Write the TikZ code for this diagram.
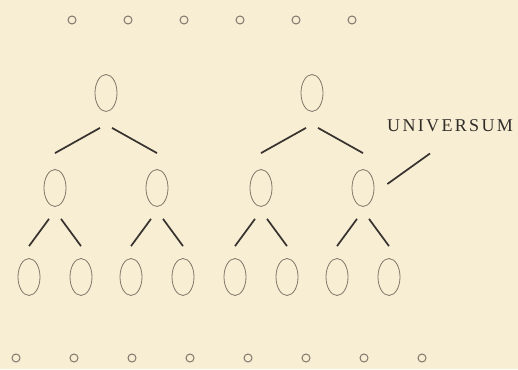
\documentclass[tikz,border=0pt]{standalone}
\usepackage{fontspec}
\usepackage{tikz}
\usetikzlibrary{shapes.geometric, positioning}
\newfontfamily\univfont[LetterSpace=13]{Liberation Serif}
\definecolor{paper}{RGB}{247,238,212}
\definecolor{inkdark}{RGB}{55,50,45}
\definecolor{inkgray}{RGB}{128,120,106}

\begin{document}
\begin{tikzpicture}[
    x=1pt, y=1pt, on grid,
    set/.style={draw=inkgray, ellipse, minimum width=22pt, minimum height=37pt,
                inner sep=0pt, line width=0.8pt},
    ring/.style={draw=inkgray, circle, minimum size=8pt, inner sep=0pt, line width=1pt},
    link/.style={draw=inkdark, line width=1.7pt},
    tag/.style={inner sep=0pt, text=inkdark!90!black,
                font=\univfont\fontsize{18}{20}\selectfont},
]
\useasboundingbox (0,0) rectangle (518,369);
\fill[paper] (0,0) rectangle (518,369);

% --- Top row ---
\node[ring] (t1) at (72,349) {};
\node[ring, right=56pt of t1] (t2) {};
\node[ring, right=56pt of t2] (t3) {};
\node[ring, right=56pt of t3] (t4) {};
\node[ring, right=56pt of t4] (t5) {};
\node[ring, right=56pt of t5] (t6) {};

% --- Roots ---
\node[set] (r1) at (106,276) {};
\node[set] (r2) at (312,276) {};

% --- Second level ---
\node[set, below left=95pt and 51pt of r1] (a1) {};
\node[set, below right=95pt and 51pt of r1] (a2) {};
\node[set, below left=95pt and 51pt of r2] (a3) {};
\node[set, below right=95pt and 51pt of r2] (a4) {};

% --- Third level ---
\node[set, below left=89pt and 26pt of a1] (b1) {};
\node[set, below right=89pt and 26pt of a1] (b2) {};
\node[set, below left=89pt and 26pt of a2] (b3) {};
\node[set, below right=89pt and 26pt of a2] (b4) {};
\node[set, below left=89pt and 26pt of a3] (b5) {};
\node[set, below right=89pt and 26pt of a3] (b6) {};
\node[set, below left=89pt and 26pt of a4] (b7) {};
\node[set, below right=89pt and 26pt of a4] (b8) {};

% --- Bottom row ---
\node[ring] (u1) at (16,11) {};
\node[ring, right=58pt of u1] (u2) {};
\node[ring, right=58pt of u2] (u3) {};
\node[ring, right=58pt of u3] (u4) {};
\node[ring, right=58pt of u4] (u5) {};
\node[ring, right=58pt of u5] (u6) {};
\node[ring, right=58pt of u6] (u7) {};
\node[ring, right=58pt of u7] (u8) {};

% --- Label ---
\node[tag, anchor=base west] (univ) at (387,237) {UNIVERSUM};

% --- Lines: roots -> second level ---
\draw[link] ([shift={(-6pt,-16pt)}]r1.south) -- ([yshift=16pt]a1.north);
\draw[link] ([shift={(6pt,-16pt)}]r1.south) -- ([yshift=16pt]a2.north);
\draw[link] ([shift={(-6pt,-16pt)}]r2.south) -- ([yshift=16pt]a3.north);
\draw[link] ([shift={(6pt,-16pt)}]r2.south) -- ([yshift=16pt]a4.north);

% --- Lines: second -> third level ---
\draw[link] ([shift={(-6pt,-12pt)}]a1.south) -- ([yshift=12pt]b1.north);
\draw[link] ([shift={(6pt,-12pt)}]a1.south) -- ([yshift=12pt]b2.north);
\draw[link] ([shift={(-6pt,-12pt)}]a2.south) -- ([yshift=12pt]b3.north);
\draw[link] ([shift={(6pt,-12pt)}]a2.south) -- ([yshift=12pt]b4.north);
\draw[link] ([shift={(-6pt,-12pt)}]a3.south) -- ([yshift=12pt]b5.north);
\draw[link] ([shift={(6pt,-12pt)}]a3.south) -- ([yshift=12pt]b6.north);
\draw[link] ([shift={(-6pt,-12pt)}]a4.south) -- ([yshift=12pt]b7.north);
\draw[link] ([shift={(6pt,-12pt)}]a4.south) -- ([yshift=12pt]b8.north);

% --- Pointer to label ---
\draw[link] ([shift={(13pt,4pt)}]a4.east) -- ([shift={(43pt,-21pt)}]univ.south west);

\end{tikzpicture}
\end{document}
